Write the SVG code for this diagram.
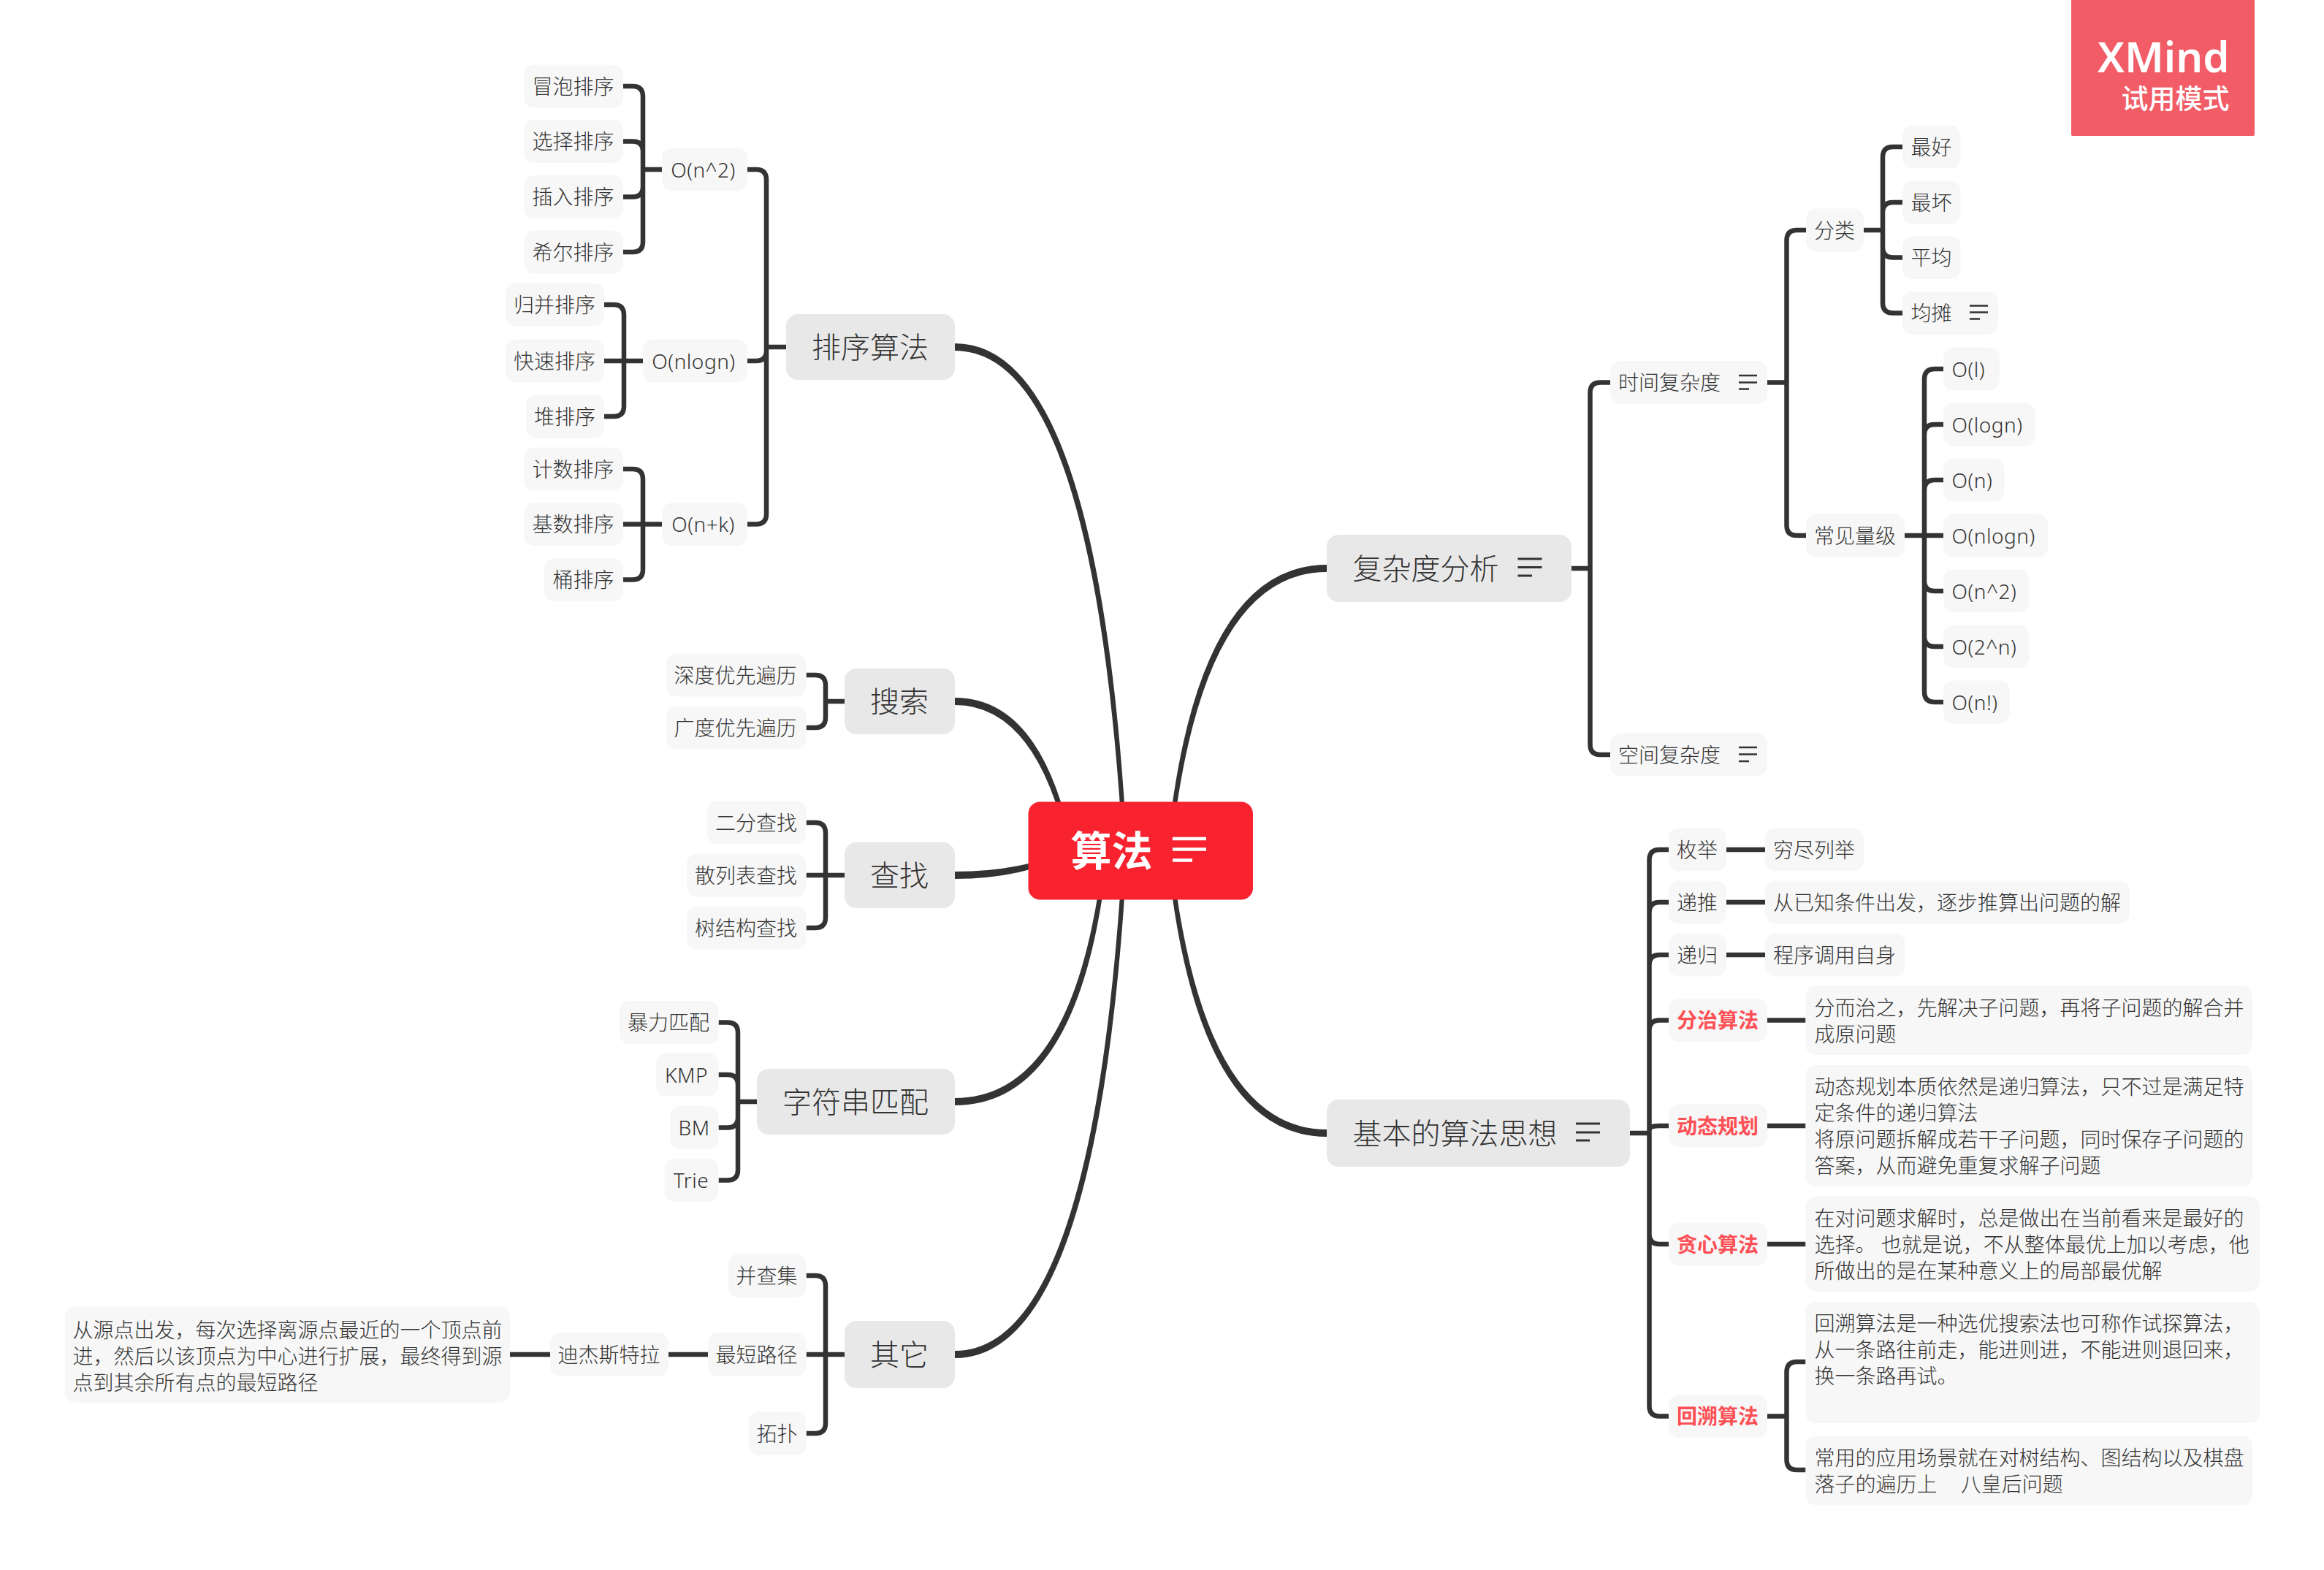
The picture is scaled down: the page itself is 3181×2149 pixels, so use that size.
<svg xmlns="http://www.w3.org/2000/svg" width="3181" height="2149" viewBox="0 0 3181 2149">
<style>
text{font-family:"Noto Sans","Noto Sans CJK SC",sans-serif;fill:#333;white-space:pre;font-weight:300;transform:translate(-.5px,.5px)}
.t{font-size:28px;text-anchor:middle}
.l{letter-spacing:.5px}
.s{font-size:28px}
.b{font-size:40px;text-anchor:middle}
.bs{font-size:40px}
.r{font-size:28px;font-weight:700;fill:#fd4f54;text-anchor:middle}
.n{fill:#f7f7f7}
.m{fill:#e8e8e8}
.i{fill:none;stroke:#333;stroke-width:2.5}
.bi{fill:none;stroke:#333;stroke-width:3}
.c{fill:none;stroke:#333;stroke-width:6.5}
.f{fill:#333;stroke:none}
</style>
<rect width="3181" height="2149" fill="#fff"/>
<g id="connectors">
<path class="f" d="M1816 1556Q1636 1556 1597 1164L1603 1164Q1644 1546 1816 1546Z"/>
<path class="f" d="M1816 773Q1636 773 1597 1164L1603 1164Q1644 783 1816 783Z"/>
<path class="f" d="M1307 470Q1505 470 1543 1164L1537 1164Q1497 480 1307 480Z"/>
<path class="f" d="M1307 1859Q1505 1859 1543 1164L1537 1164Q1497 1849 1307 1849Z"/>
<path class="f" d="M1307 1513Q1481 1513 1517 1164L1511 1164Q1473 1503 1307 1503Z"/>
<path class="f" d="M1307 955Q1427 955 1469 1164L1463 1164Q1419 965 1307 965Z"/>
<path class="f" d="M1307 1203Q1400 1203 1470 1167L1470 1161Q1400 1193 1307 1193Z"/>
<path class="c" d="M1023 232H1035Q1049 232 1049 246V475M1023 494H1035Q1049 494 1049 480V475M1023 717.5H1035Q1049 717.5 1049 703.5V475M1076 475H1049"/>
<path class="c" d="M853 118H866Q880 118 880 132V232M853 193.5H866Q880 193.5 880 207.5V232M853 269.5H866Q880 269.5 880 255.5V232M853 345H866Q880 345 880 331V232M906 232H880"/>
<path class="c" d="M827 417H840Q854 417 854 431V494M827 494H880M827 570H840Q854 570 854 556V494"/>
<path class="c" d="M853 642H866Q880 642 880 656V717.5M853 717.5H906M853 793.5H866Q880 793.5 880 779.5V717.5"/>
<path class="c" d="M1103.5 924H1116Q1130 924 1130 938V960M1103.5 996H1116Q1130 996 1130 982V960M1156 960H1130"/>
<path class="c" d="M1103.5 1126H1116Q1130 1126 1130 1140V1198M1103.5 1198H1156M1103.5 1270H1116Q1130 1270 1130 1256V1198"/>
<path class="c" d="M983.5 1399.5H996Q1010 1399.5 1010 1413.5V1508M983.5 1471H996Q1010 1471 1010 1485V1508M983.5 1543.5H996Q1010 1543.5 1010 1529.5V1508M983.5 1615.5H996Q1010 1615.5 1010 1601.5V1508M1036 1508H1010"/>
<path class="c" d="M1103.5 1746H1116Q1130 1746 1130 1760V1854M1103.5 1854H1156M1103.5 1962H1116Q1130 1962 1130 1948V1854M698 1854H753M915 1854H969"/>
<path class="c" d="M2151 778H2176.5M2204 523.5H2190.5Q2176.5 523.5 2176.5 537.5V778M2204 1033H2190.5Q2176.5 1033 2176.5 1019V778"/>
<path class="c" d="M2419 523.5H2445.5M2472 315H2459.5Q2445.5 315 2445.5 329V523.5M2472 733H2459.5Q2445.5 733 2445.5 719V523.5"/>
<path class="c" d="M2551 315H2577M2604 201H2591Q2577 201 2577 215V315M2604 277H2591Q2577 277 2577 291V315M2604 352.5H2591Q2577 352.5 2577 338.5V315M2604 428.5H2591Q2577 428.5 2577 414.5V315"/>
<path class="c" d="M2607 733H2660M2660 505H2648Q2634 505 2634 519V733M2660 581H2648Q2634 581 2634 595V733M2660 657H2648Q2634 657 2634 671V733M2660 809H2648Q2634 809 2634 795V733M2660 885H2648Q2634 885 2634 871V733M2660 961H2648Q2634 961 2634 947V733"/>
<path class="c" d="M2231 1551H2257.5M2284 1163H2271.5Q2257.5 1163 2257.5 1177V1551M2284 1235H2271.5Q2257.5 1235 2257.5 1249V1551M2284 1307H2271.5Q2257.5 1307 2257.5 1321V1551M2284 1396.5H2271.5Q2257.5 1396.5 2257.5 1410.5V1551M2284 1541H2271.5Q2257.5 1541 2257.5 1547V1551M2284 1703H2271.5Q2257.5 1703 2257.5 1689V1551M2284 1938.5H2271.5Q2257.5 1938.5 2257.5 1924.5V1551"/>
<path class="c" d="M2363 1163H2416M2363 1235H2416M2363 1307H2416M2419 1396.5H2471.5M2419 1541H2471.5M2419 1703H2471.5M2419 1938.5H2445.5M2471.5 1864H2459.5Q2445.5 1864 2445.5 1878V1998Q2445.5 2012 2459.5 2012H2471.5"/>
</g>
<g id="root"><rect x="1407.5" y="1097.5" width="307.5" height="134" rx="16" fill="#f92330"/><text x="1466" y="1184" style="font-size:56px;font-weight:700;fill:#fff">算法</text><path fill="none" stroke="#fff" stroke-width="4.5" d="M1605 1148H1651M1605 1162.5H1651M1605 1177.5H1632"/></g>
<g id="n-sort"><rect class="m" x="1076" y="430" width="231" height="90" rx="16"/><text class="b" x="1191.5" y="489">排序算法</text></g>
<g id="n-search"><rect class="m" x="1156" y="915" width="151" height="90" rx="16"/><text class="b" x="1231.5" y="974">搜索</text></g>
<g id="n-find"><rect class="m" x="1156" y="1153" width="151" height="90" rx="16"/><text class="b" x="1231.5" y="1212">查找</text></g>
<g id="n-string"><rect class="m" x="1036" y="1463" width="271" height="90" rx="16"/><text class="b" x="1171.5" y="1522">字符串匹配</text></g>
<g id="n-other"><rect class="m" x="1156" y="1808" width="151" height="92" rx="16"/><text class="b" x="1231.5" y="1868">其它</text></g>
<g id="n-complexity"><rect class="m" x="1816" y="732" width="335" height="92" rx="16"/><text class="bs" x="1852" y="792">复杂度分析</text><path class="bi" d="M2077.5 765H2110.5M2077.5 776.5H2110.5M2077.5 788H2097"/></g>
<g id="n-basic"><rect class="m" x="1816" y="1505" width="415" height="92" rx="16"/><text class="bs" x="1852" y="1565">基本的算法思想</text><path class="bi" d="M2157 1538H2190M2157 1550H2190M2157 1561H2176"/></g>
<g id="n1"><rect class="n" x="717" y="88.5" width="136" height="59" rx="14"/><text class="t" x="785" y="128">冒泡排序</text></g>
<g id="n2"><rect class="n" x="717" y="164" width="136" height="59" rx="14"/><text class="t" x="785" y="203.5">选择排序</text></g>
<g id="n3"><rect class="n" x="717" y="240" width="136" height="59" rx="14"/><text class="t" x="785" y="279.5">插入排序</text></g>
<g id="n4"><rect class="n" x="717" y="315.5" width="136" height="59" rx="14"/><text class="t" x="785" y="355">希尔排序</text></g>
<g id="n5"><rect class="n" x="906" y="202.5" width="117" height="59" rx="14"/><text class="t l" x="963" y="242">O(n^2)</text></g>
<g id="n6"><rect class="n" x="692" y="387.5" width="135" height="59" rx="14"/><text class="t" x="759.5" y="427">归并排序</text></g>
<g id="n7"><rect class="n" x="692" y="464.5" width="135" height="59" rx="14"/><text class="t" x="759.5" y="504">快速排序</text></g>
<g id="n8"><rect class="n" x="720" y="540.5" width="107" height="59" rx="14"/><text class="t" x="773.5" y="580">堆排序</text></g>
<g id="n9"><rect class="n" x="880" y="464.5" width="143" height="59" rx="14"/><text class="t l" x="950" y="504">O(nlogn)</text></g>
<g id="n10"><rect class="n" x="717" y="612.5" width="136" height="59" rx="14"/><text class="t" x="785" y="652">计数排序</text></g>
<g id="n11"><rect class="n" x="717" y="688" width="136" height="59" rx="14"/><text class="t" x="785" y="727.5">基数排序</text></g>
<g id="n12"><rect class="n" x="745" y="764" width="108" height="59" rx="14"/><text class="t" x="799" y="803.5">桶排序</text></g>
<g id="n13"><rect class="n" x="906" y="688" width="117" height="59" rx="14"/><text class="t l" x="963" y="727.5">O(n+k)</text></g>
<g id="n14"><rect class="n" x="912" y="894.5" width="191.5" height="59" rx="14"/><text class="t" x="1007" y="934">深度优先遍历</text></g>
<g id="n15"><rect class="n" x="912" y="966.5" width="191.5" height="59" rx="14"/><text class="t" x="1007" y="1006">广度优先遍历</text></g>
<g id="n16"><rect class="n" x="968" y="1096.5" width="135.5" height="59" rx="14"/><text class="t" x="1035.5" y="1136">二分查找</text></g>
<g id="n17"><rect class="n" x="940" y="1168.5" width="163.5" height="59" rx="14"/><text class="t" x="1021.5" y="1208">散列表查找</text></g>
<g id="n18"><rect class="n" x="940" y="1240.5" width="163.5" height="59" rx="14"/><text class="t" x="1021.5" y="1280">树结构查找</text></g>
<g id="n19"><rect class="n" x="848" y="1370" width="135.5" height="59" rx="14"/><text class="t" x="915.5" y="1409.5">暴力匹配</text></g>
<g id="n20"><rect class="n" x="898" y="1441.5" width="85.5" height="59" rx="14"/><text class="t l" x="940" y="1481">KMP</text></g>
<g id="n21"><rect class="n" x="917.5" y="1514" width="66" height="59" rx="14"/><text class="t l" x="950.5" y="1553.5">BM</text></g>
<g id="n22"><rect class="n" x="909.5" y="1586" width="74" height="59" rx="14"/><text class="t l" x="946.5" y="1625.5">Trie</text></g>
<g id="n23"><rect class="n" x="997" y="1716" width="106.5" height="60" rx="14"/><text class="t" x="1050" y="1756">并查集</text></g>
<g id="n24"><rect class="n" x="969" y="1824" width="134.5" height="60" rx="14"/><text class="t" x="1036" y="1864">最短路径</text></g>
<g id="n25"><rect class="n" x="1025" y="1932" width="78.5" height="60" rx="14"/><text class="t" x="1064" y="1972">拓扑</text></g>
<g id="n26"><rect class="n" x="753" y="1824" width="162" height="60" rx="14"/><text class="t" x="834" y="1864">迪杰斯特拉</text></g>
<g id="n27"><rect class="n" x="89" y="1788" width="609" height="132" rx="14"/><text class="s" x="100" y="1830">从源点出发，每次选择离源点最近的一个顶点前</text><text class="s" x="100" y="1866">进，然后以该顶点为中心进行扩展，最终得到源</text><text class="s" x="100" y="1902">点到其余所有点的最短路径</text></g>
<g id="n28"><rect class="n" x="2204" y="494" width="215" height="59" rx="14"/><text class="s" x="2215.5" y="533.5">时间复杂度</text><path class="i" d="M2380 514H2405M2380 523.5H2405M2380 532.5H2394"/></g>
<g id="n29"><rect class="n" x="2204" y="1003.5" width="215" height="59" rx="14"/><text class="s" x="2215.5" y="1043">空间复杂度</text><path class="i" d="M2380 1023H2405M2380 1032.5H2405M2380 1042H2394"/></g>
<g id="n30"><rect class="n" x="2472" y="285.5" width="79" height="59" rx="14"/><text class="t" x="2511.5" y="325">分类</text></g>
<g id="n31"><rect class="n" x="2472" y="703.5" width="135" height="59" rx="14"/><text class="t" x="2539.5" y="743">常见量级</text></g>
<g id="n32"><rect class="n" x="2604" y="171.5" width="79.5" height="59" rx="14"/><text class="t" x="2644" y="211">最好</text></g>
<g id="n33"><rect class="n" x="2604" y="247.5" width="79.5" height="59" rx="14"/><text class="t" x="2644" y="287">最坏</text></g>
<g id="n34"><rect class="n" x="2604" y="323" width="79.5" height="59" rx="14"/><text class="t" x="2644" y="362.5">平均</text></g>
<g id="n35"><rect class="n" x="2604" y="399" width="131" height="59" rx="14"/><text class="s" x="2616" y="438.5">均摊</text><path class="i" d="M2696 418.5H2721M2696 427.5H2721M2696 436.5H2710"/></g>
<g id="n36"><rect class="n" x="2660" y="475.5" width="77" height="59" rx="14"/><text class="s l" x="2672" y="515">O(l)</text></g>
<g id="n37"><rect class="n" x="2660" y="551.5" width="125.5" height="59" rx="14"/><text class="s l" x="2672" y="591">O(logn)</text></g>
<g id="n38"><rect class="n" x="2660" y="627.5" width="83.5" height="59" rx="14"/><text class="s l" x="2672" y="667">O(n)</text></g>
<g id="n39"><rect class="n" x="2660" y="703.5" width="143.5" height="59" rx="14"/><text class="s l" x="2672" y="743">O(nlogn)</text></g>
<g id="n40"><rect class="n" x="2660" y="779.5" width="117" height="59" rx="14"/><text class="s l" x="2672" y="819">O(n^2)</text></g>
<g id="n41"><rect class="n" x="2660" y="855.5" width="117" height="59" rx="14"/><text class="s l" x="2672" y="895">O(2^n)</text></g>
<g id="n42"><rect class="n" x="2660" y="931.5" width="91" height="59" rx="14"/><text class="s l" x="2672" y="971">O(n!)</text></g>
<g id="n43"><rect class="n" x="2284" y="1133.5" width="79" height="59" rx="14"/><text class="t" x="2323.5" y="1173">枚举</text></g>
<g id="n44"><rect class="n" x="2284" y="1205.5" width="79" height="59" rx="14"/><text class="t" x="2323.5" y="1245">递推</text></g>
<g id="n45"><rect class="n" x="2284" y="1277.5" width="79" height="59" rx="14"/><text class="t" x="2323.5" y="1317">递归</text></g>
<g id="n46"><rect class="n" x="2416" y="1133.5" width="135" height="59" rx="14"/><text class="t" x="2483.5" y="1173">穷尽列举</text></g>
<g id="n47"><rect class="n" x="2416" y="1205.5" width="499" height="59" rx="14"/><text class="t" x="2665.5" y="1245">从已知条件出发，逐步推算出问题的解</text></g>
<g id="n48"><rect class="n" x="2416" y="1277.5" width="191.5" height="59" rx="14"/><text class="t" x="2511.5" y="1317">程序调用自身</text></g>
<g id="n49"><rect class="n" x="2284" y="1367" width="135" height="59" rx="14"/><text class="r" x="2351.5" y="1406.5">分治算法</text></g>
<g id="n50"><rect class="n" x="2284" y="1511.5" width="135" height="59" rx="14"/><text class="r" x="2351.5" y="1551">动态规划</text></g>
<g id="n51"><rect class="n" x="2284" y="1673.5" width="135" height="59" rx="14"/><text class="r" x="2351.5" y="1713">贪心算法</text></g>
<g id="n52"><rect class="n" x="2284" y="1909" width="135" height="59" rx="14"/><text class="r" x="2351.5" y="1948.5">回溯算法</text></g>
<g id="n53"><rect class="n" x="2471.5" y="1349" width="611.5" height="95" rx="14"/><text class="s" x="2484" y="1389">分而治之，先解决子问题，再将子问题的解合并</text><text class="s" x="2484" y="1425">成原问题</text></g>
<g id="n54"><rect class="n" x="2471.5" y="1458" width="611.5" height="166" rx="14"/><text class="s" x="2484" y="1497">动态规划本质依然是递归算法，只不过是满足特</text><text class="s" x="2484" y="1533">定条件的递归算法</text><text class="s" x="2484" y="1569">将原问题拆解成若干子问题，同时保存子问题的</text><text class="s" x="2484" y="1605">答案，从而避免重复求解子问题</text></g>
<g id="n55"><rect class="n" x="2471.5" y="1637.5" width="621.5" height="130.5" rx="14"/><text class="s" x="2484" y="1677.5">在对问题求解时，总是做出在当前看来是最好的</text><text class="s" x="2484" y="1713.5">选择。 也就是说，不从整体最优上加以考虑，他</text><text class="s" x="2484" y="1749.5">所做出的是在某种意义上的局部最优解</text></g>
<g id="n56"><rect class="n" x="2471.5" y="1782" width="621.5" height="166" rx="14"/><text class="s" x="2484" y="1821.5">回溯算法是一种选优搜索法也可称作试探算法，</text><text class="s" x="2484" y="1857.5">从一条路往前走，能进则进，不能进则退回来，</text><text class="s" x="2484" y="1893.5">换一条路再试。</text></g>
<g id="n57"><rect class="n" x="2471.5" y="1965.5" width="611.5" height="95" rx="14"/><text class="s" x="2484" y="2005.5">常用的应用场景就在对树结构、图结构以及棋盘</text><text class="s" x="2484" y="2041.5">落子的遍历上    <tspan dx="3">八皇后问题</tspan></text></g>
<g id="watermark"><path d="M2835 0H3086V184Q3086 186 3084 186H2837Q2835 186 2835 184Z" fill="#f25c66"/><text x="3052" y="98" style="font-size:58px;font-weight:600;fill:#fff;text-anchor:end">XMind</text><text x="3052" y="148" style="font-size:37px;font-weight:500;fill:#fff;text-anchor:end">试用模式</text></g>
</svg>
